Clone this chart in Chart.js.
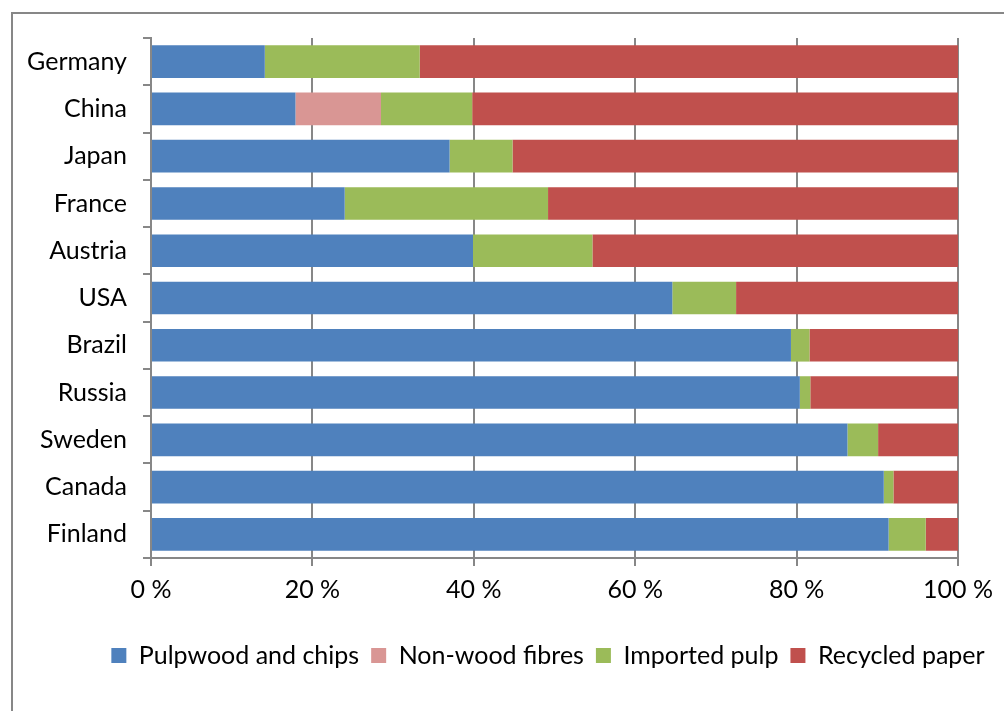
<!DOCTYPE html>
<html>
<head>
<meta charset="utf-8">
<script src="https://cdn.jsdelivr.net/npm/chart.js@4"></script>
<style>
  html, body { margin: 0; padding: 0; background: #fff; overflow: hidden; }
  #frame { position: absolute; left: 11px; top: 12px; width: 1100px; height: 800px; border: 2px solid #878787; }
  #wrap { position: absolute; left: 0; top: 0; width: 1004px; height: 711px; }
</style>
</head>
<body>
<div id="frame"></div>
<div id="wrap"><canvas id="myChart" width="1004" height="711"></canvas></div>
<script>
// countries, top to bottom
const categories = ['Germany', 'China', 'Japan', 'France', 'Austria', 'USA', 'Brazil', 'Russia', 'Sweden', 'Canada', 'Finland'];

// share of raw material, %
const pulpwood = [14.1, 17.9, 37.0, 24.0, 39.9, 64.6, 79.3, 80.4, 86.3, 90.8, 91.4];
const nonWood  = [0, 10.6, 0, 0, 0, 0, 0, 0, 0, 0, 0];
const imported = [19.2, 11.3, 7.8, 25.2, 14.8, 7.9, 2.3, 1.3, 3.8, 1.2, 4.6];
const recycled = [66.7, 60.2, 55.2, 50.8, 45.3, 27.5, 18.4, 18.3, 9.9, 8.0, 4.0];

const tickValues = [0, 20, 40, 60, 80, 100];

const FONT = 'Lato, "Open Sans", sans-serif';
const axisGray = '#878787';

// legend in the original is centred under the plot, not the whole canvas
const legendShift = {
  id: 'legendShift',
  afterLayout(chart) {
    const lg = chart.legend;
    if (!lg) return;
    lg.left += 69;
    lg.right += 69;
  }
};

const ctx = document.getElementById('myChart').getContext('2d');
const chart = new Chart(ctx, {
  type: 'bar',
  data: {
    labels: categories,
    datasets: [
      { label: 'Pulpwood and chips', data: pulpwood, backgroundColor: '#4F81BD' },
      { label: 'Non-wood fibres', data: nonWood, backgroundColor: '#D99694' },
      { label: 'Imported pulp', data: imported, backgroundColor: '#9BBB59' },
      { label: 'Recycled paper', data: recycled, backgroundColor: '#C0504D' }
    ]
  },
  plugins: [legendShift],
  options: {
    indexAxis: 'y',
    responsive: false,
    animation: false,
    categoryPercentage: 0.69,
    barPercentage: 1.0,
    layout: { padding: { top: 38, right: 46, bottom: 33, left: 0 } },
    plugins: {
      tooltip: { enabled: false },
      legend: {
        position: 'bottom',
        labels: {
          font: { family: FONT, size: 25 },
          color: '#000',
          boxWidth: 15,
          boxHeight: 15,
          padding: 12
        }
      }
    },
    scales: {
      x: {
        stacked: true,
        min: 0,
        max: 100,
        afterBuildTicks: (s) => { s.ticks = tickValues.map(v => ({ value: v })); },
        afterFit: (s) => { s.height = 73; s.paddingLeft = 0; s.paddingRight = 0; },
        ticks: {
          font: { family: FONT, size: 25 },
          color: '#000',
          padding: 9,
          maxRotation: 0,
          callback: (v) => v + ' %'
        },
        grid: { color: axisGray, lineWidth: 2, tickLength: 8 },
        border: { color: axisGray, width: 2 }
      },
      y: {
        stacked: true,
        afterFit: (s) => { s.width = 151; },
        ticks: {
          font: { family: FONT, size: 25 },
          color: '#000',
          padding: 16
        },
        grid: { drawOnChartArea: false, color: axisGray, lineWidth: 2, tickLength: 8 },
        border: { color: axisGray, width: 2 }
      }
    }
  }
});
</script>
</body>
</html>
